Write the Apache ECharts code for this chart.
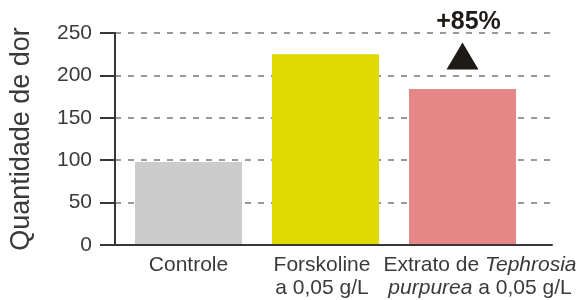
<!DOCTYPE html>
<html>
<head>
<meta charset="utf-8">
<script src="https://cdn.jsdelivr.net/npm/echarts@6/dist/echarts.min.js"></script>
<style>
  html, body { margin: 0; padding: 0; background: #fff; }
  #chart { width: 581px; height: 300px; }
</style>
</head>
<body>
<div id="chart"></div>
<script>
// dados
var categories = ['Controle', 'Forskoline a 0,05 g/L', 'Extrato de Tephrosia purpurea a 0,05 g/L'];
var catLabels = ['Controle', 'Forskoline\na 0,05 g/L', 'Extrato de {i|Tephrosia}\n{i|purpurea} a 0,05 g/L'];
var values = [98, 225, 184];
var barColors = ['#cccccc', '#ded900', '#e68787'];
var yTicks = [0, 50, 100, 150, 200, 250];
var yTitle = 'Quantidade de dor';
var changeText = '+85%';
var markerLevel = 223; // altura do triângulo

var dark = '#3b3636';
var textColor = '#3a3a3a';
var font = 'Liberation Sans, Arial, sans-serif';

var chart = echarts.init(document.getElementById('chart'), null, { renderer: 'canvas' });

var option = {
  animation: false,
  grid: [
    // eixos e linhas tracejadas
    { left: 108, right: 29, top: 33, bottom: 55 },
    // barras
    { left: 120, right: 50, top: 33, bottom: 55 }
  ],
  xAxis: [
    {
      gridIndex: 0,
      type: 'category',
      data: categories,
      z: 5,
      axisLine: { lineStyle: { color: dark, width: 2 } },
      axisTick: { show: false },
      axisLabel: { show: false }
    },
    {
      gridIndex: 1,
      type: 'category',
      data: categories.map(function (c, i) {
        var item = { value: c };
        if (i === 1) item.textStyle = { padding: [0, 7, 0, 0] };
        if (i === 2) item.textStyle = { padding: [0, 0, 0, 35] };
        return item;
      }),
      axisLine: { show: false },
      axisTick: { show: false },
      axisLabel: {
        interval: 0,
        margin: 9,
        color: textColor,
        fontFamily: font,
        fontSize: 21,
        lineHeight: 23,
        formatter: function (v, i) { return catLabels[i]; },
        rich: {
          i: { fontStyle: 'italic', fontFamily: font, fontSize: 21, lineHeight: 23, color: textColor }
        }
      }
    }
  ],
  yAxis: [
    {
      gridIndex: 0,
      type: 'value',
      min: yTicks[0],
      max: yTicks[yTicks.length - 1],
      interval: 50,
      name: yTitle,
      nameLocation: 'middle',
      nameRotate: 90,
      nameGap: 80,
      nameTextStyle: { color: textColor, fontFamily: font, fontSize: 27 },
      axisLine: { show: true, lineStyle: { color: dark, width: 2 } },
      axisTick: { show: true, length: 15, lineStyle: { color: dark, width: 2 } },
      axisLabel: { margin: 23, color: textColor, fontFamily: font, fontSize: 21 },
      splitLine: { show: true, lineStyle: { color: '#999999', width: 2, type: [6, 7] } }
    },
    {
      gridIndex: 1,
      type: 'value',
      min: yTicks[0],
      max: yTicks[yTicks.length - 1],
      show: false
    }
  ],
  series: [
    {
      type: 'bar',
      xAxisIndex: 1,
      yAxisIndex: 1,
      barWidth: 107,
      data: values.map(function (v, i) {
        return { value: v, itemStyle: { color: barColors[i] } };
      }),
      markPoint: {
        data: [{
          coord: [categories[2], markerLevel],
          symbol: 'triangle',
          symbolSize: [32, 27],
          itemStyle: { color: '#1e1a18' },
          label: {
            show: true,
            position: 'top',
            distance: 8,
            offset: [6, 0],
            formatter: changeText,
            color: '#1e1a18',
            fontFamily: font,
            fontWeight: 'bold',
            fontSize: 25
          }
        }]
      }
    }
  ]
};

chart.setOption(option);
</script>
</body>
</html>
